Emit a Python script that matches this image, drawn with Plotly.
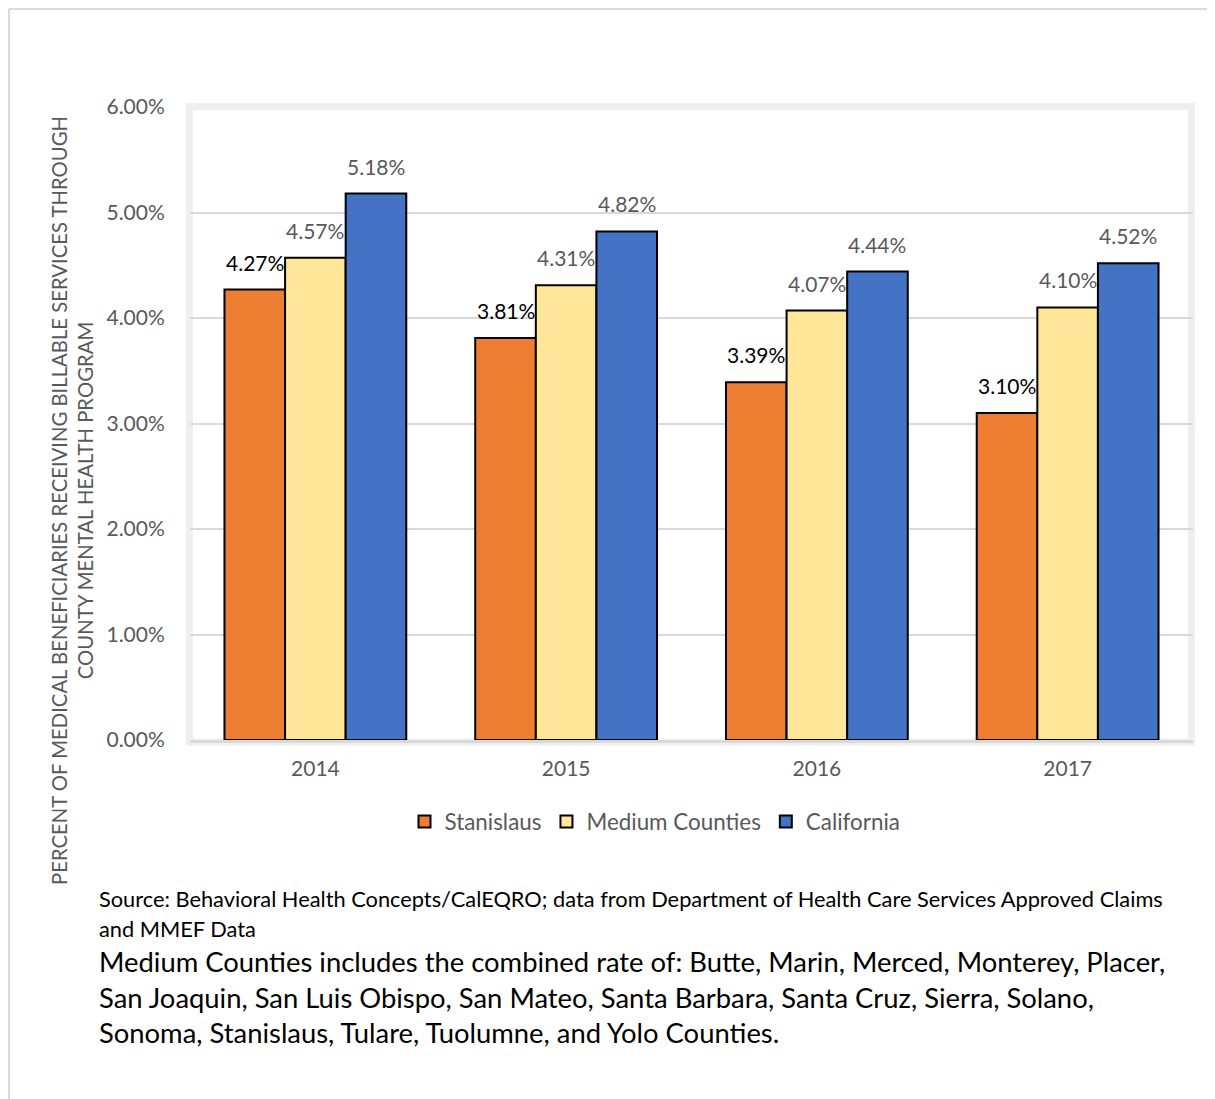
import plotly.graph_objects as go

years = ["2014", "2015", "2016", "2017"]
stanislaus = [4.27, 3.81, 3.39, 3.10]
medium = [4.57, 4.31, 4.07, 4.10]
california = [5.18, 4.82, 4.44, 4.52]
series_names = ["Stanislaus", "Medium Counties", "California"]
y_ticks = [0, 1, 2, 3, 4, 5, 6]
y_tick_text = ["0.00%", "1.00%", "2.00%", "3.00%", "4.00%", "5.00%", "6.00%"]

OFF = 8  # page body margin
W, H = 1215 - OFF, 1099 - OFF
# plot area in page (reference) pixel coordinates
L, R, T, B = 190, 1193, 107, 740
FONT = "Lato, 'Open Sans', sans-serif"
GRAY = "#595959"
BARGAP = 0.275

def px(x):
    return (x - L) / (R - L)

def py(y):
    return (B - y) / (B - T)

fig = go.Figure()
colors = ["#ED7D31", "#FFE699", "#4472C4"]
text_colors = ["#000000", GRAY, GRAY]
all_vals = [stanislaus, medium, california]
for name, vals, c in zip(series_names, all_vals, colors):
    fig.add_trace(go.Bar(
        x=years, y=vals, name=name,
        marker=dict(color=c, line=dict(color="#000000", width=2)),
        hoverinfo="x+y+name",
    ))

annotations = []
cat_px = (R - L) / len(years)
bar_px = cat_px * (1 - BARGAP) / 3
for i, (vals, tc) in enumerate(zip(all_vals, text_colors)):
    for j, v in enumerate(vals):
        annotations.append(dict(
            x=j, y=v, xref="x", yref="y", text=f"{v:.2f}%", showarrow=False,
            xshift=(i - 1) * bar_px, yshift=13, xanchor="center", yanchor="bottom",
            font=dict(size=21, color=tc, family=FONT)))

shapes = [
    # outer border
    dict(type="line", xref="paper", yref="paper", x0=px(9), x1=px(1215), y0=py(9), y1=py(9),
         line=dict(color="#d9d9d9", width=2)),
    dict(type="line", xref="paper", yref="paper", x0=px(9), x1=px(9), y0=py(9), y1=py(1099),
         line=dict(color="#d9d9d9", width=2)),
    # plot area frame
    dict(type="rect", xref="paper", yref="paper", x0=px(189.5), x1=px(1191.5), y0=py(106.5), y1=py(742),
         line=dict(color="#efefef", width=7), layer="below"),
]

annotations.append(dict(
    text="PERCENT OF MEDICAL BENEFICIARIES RECEIVING BILLABLE SERVICES THROUGH<br>COUNTY MENTAL HEALTH PROGRAM",
    xref="paper", yref="paper", x=px(72), y=py(501), textangle=-90, showarrow=False,
    font=dict(size=20.3, color=GRAY, family=FONT), xanchor="center", yanchor="middle"))
src_lines = [
    ("Source: Behavioral Health Concepts/CalEQRO; data from Department of Health Care Services Approved Claims", 898, 21.8),
    ("and MMEF Data", 928, 21.8),
    ("Medium Counties includes the combined rate of: Butte, Marin, Merced, Monterey, Placer,", 961, 27.4),
    ("San Joaquin, San Luis Obispo, San Mateo, Santa Barbara, Santa Cruz, Sierra, Solano,", 997, 27.4),
    ("Sonoma, Stanislaus, Tulare, Tuolumne, and Yolo Counties.", 1032, 27.4),
]
for txt, y, s in src_lines:
    annotations.append(dict(text=txt, xref="paper", yref="paper", x=px(97), y=py(y),
                            xanchor="left", yanchor="middle", showarrow=False,
                            font=dict(size=s, color="#000000", family=FONT)))

fig.update_layout(
    width=W, height=H,
    margin=dict(l=L - OFF, r=W - (R - OFF), t=T - OFF, b=H - (B - OFF), autoexpand=False),
    paper_bgcolor="white", plot_bgcolor="white",
    barmode="group", bargap=BARGAP, bargroupgap=0,
    font=dict(family=FONT, color=GRAY),
    showlegend=True,
    legend=dict(orientation="h", x=px(655), y=py(822), xanchor="center", yanchor="middle",
                font=dict(size=22.4, color=GRAY, family=FONT), traceorder="normal"),
    xaxis=dict(type="category", range=[-0.5, len(years) - 0.5], showgrid=False, showline=True,
               linecolor="#d9d9d9", linewidth=3,
               ticks="outside", ticklen=8, tickcolor="rgba(0,0,0,0)",
               tickfont=dict(size=21, color=GRAY, family=FONT)),
    yaxis=dict(range=[0, 6], tickvals=y_ticks, ticktext=y_tick_text,
               showgrid=True, gridcolor="#d9d9d9", gridwidth=2, zeroline=False,
               showline=False, ticks="outside", ticklen=20, tickcolor="rgba(0,0,0,0)",
               tickfont=dict(size=21, color=GRAY, family=FONT)),
    shapes=shapes, annotations=annotations,
)

fig.write_html("out.html")
